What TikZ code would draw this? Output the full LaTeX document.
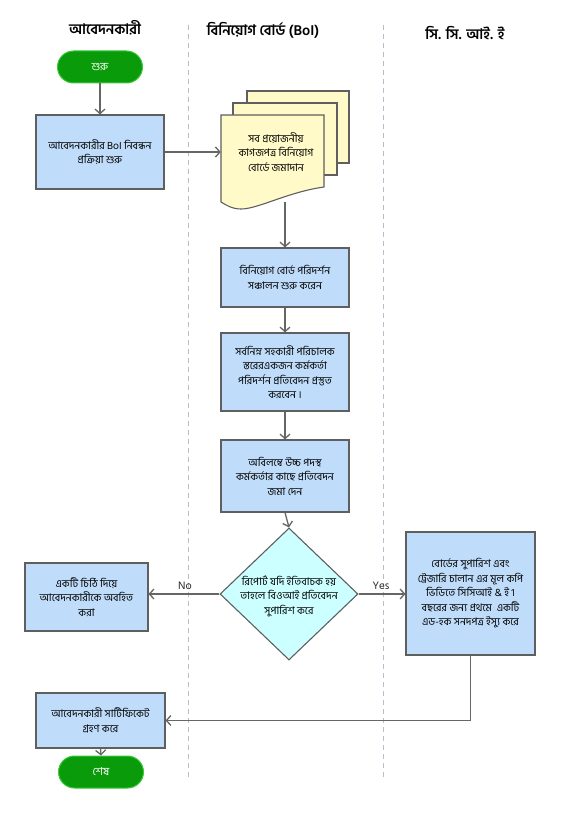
\documentclass[tikz,border=0pt]{standalone}
\usepackage{fontspec}
\setmainfont{Liberation Sans}
\newfontfamily\bn[Script=Bengali]{Hind Siliguri}
\usetikzlibrary{shapes.geometric,arrows.meta}
\definecolor{boxblue}{HTML}{BFDDFA}
\definecolor{bordergray}{HTML}{5F5F5F}
\definecolor{arrowgray}{HTML}{666666}
\definecolor{lanegray}{HTML}{B8BCCB}
\definecolor{termgreen}{HTML}{0A9B0A}
\definecolor{termborder}{HTML}{3CC83C}
\definecolor{pageyellow}{HTML}{FFFAC8}
\definecolor{diacyan}{HTML}{CCFFFF}
\tikzset{
  proc/.style={draw=bordergray, line width=1.1pt, fill=boxblue, align=center, inner sep=2pt,
    font=\bn\fontsize{10.5}{14.5}\selectfont},
  term/.style={draw=termborder, line width=1pt, fill=termgreen, rounded corners=16pt, text=white,
    minimum width=85pt, minimum height=32pt, font=\bn\fontsize{11}{12}\selectfont},
  arr/.style={draw=arrowgray, line width=1.3pt, -{Straight Barb[length=4.5pt,width=10pt]}},
  lane/.style={draw=lanegray, line width=0.8pt, dash pattern=on 5pt off 4pt},
  hdr/.style={font=\bn\bfseries\fontsize{14.5}{16}\selectfont},
  page/.style={draw=bordergray, line width=1.1pt, fill=pageyellow},
  lbl/.style={font=\bn\fontsize{11}{12}\selectfont, text=black!85}
}
\begin{document}
\begin{tikzpicture}[x=1pt,y=-1pt]
\useasboundingbox[fill=white] (0,0) rectangle (567,818);
% lanes
\draw[lane] (188,25) -- (188,780);
\draw[lane] (383,25) -- (383,780);
% headers
\node[hdr] (h1) at (105,28) {আবেদনকারী};
\node[hdr] (h2) at (263,30) {বিনিয়োগ বোর্ড (BoI)};
\node[hdr] (h3) at (465,33) {সি. সি. আই. ই};
% start
\node[term] (start) at (100,67) {শুরু};
\node[proc, minimum width=128pt, minimum height=74pt] (b1) at (100,152)
  {আবেদনকারীর BoI নিবন্ধন\\প্রক্রিয়া শুরু};
% document stack
\draw[page] (247,91) rectangle (349,163);
\draw[page] (233,103) rectangle (337,175);
\draw[page] (221,115) -- (324,115) -- (324,187)
  .. controls (288,192) and (258,209) .. (241,209)
  .. controls (232,209) and (226,205) .. (221,202) -- cycle;
\node[minimum width=103pt, minimum height=87pt, inner sep=0pt] (doc) at (272.5,158.5) {};
\node[align=center, font=\bn\fontsize{10.5}{14.5}\selectfont] (doctext) at (276,152)
  {সব প্রয়োজনীয়\\কাগজপত্র বিনিয়োগ\\বোর্ডে জমাদান};
% boxes in BoI lane
\node[proc, minimum width=128pt, minimum height=59pt] (b2) at (285,277.5)
  {বিনিয়োগ বোর্ড পরিদর্শন\\সঞ্চালন শুরু করেন};
\node[proc, minimum width=128pt, minimum height=78pt] (b3) at (285,372)
  {সর্বনিম্ন সহকারী পরিচালক\\স্তরেরএকজন কর্মকর্তা\\পরিদর্শন প্রতিবেদন প্রস্তুত\\করবেন ।};
\node[proc, minimum width=128pt, minimum height=72pt] (b4) at (285,476)
  {অবিলম্বে উচ্চ পদস্থ\\কর্মকর্তার কাছে প্রতিবেদন\\জমা দেন};
% decision
\node[diamond, draw=bordergray, line width=1.1pt, fill=diacyan, minimum width=138pt,
  minimum height=132pt, inner sep=0pt] (dia) at (289,594) {};
\node[align=center, font=\bn\fontsize{10.5}{14.5}\selectfont] (diatext) at (289,596)
  {রিপোর্ট যদি ইতিবাচক হয়\\তাহলে বিওআই প্রতিবেদন\\সুপারিশ করে};
% side boxes
\node[proc, minimum width=123pt, minimum height=68pt] (lb) at (86.5,597)
  {একটি চিঠি দিয়ে\\আবেদনকারীকে অবহিত\\করা};
\node[proc, minimum width=129pt, minimum height=123pt] (rb) at (470.5,593.5)
  {বোর্ডের সুপারিশ এবং\\ট্রেজারি চালান এর মূল কপি\\ভিডিতে সিসিআই \& ই 1\\বছরের জন্য প্রথমে\ \ একটি\\এড-হক সনদপত্র ইস্যু করে};
\node[proc, minimum width=129pt, minimum height=55pt] (bb) at (100.5,720.5)
  {আবেদনকারী সার্টিফিকেট\\গ্রহণ করে};
\node[term] (end) at (101,772) {শেষ};
% connectors
\draw[arr] (start.south) -- (b1.north);
\draw[arr] (b1.east) -- (b1.east -| doc.west);
\draw[arr] (b2.north |- doc.south) -- (b2.north);
\draw[arr] (b2.south) -- (b3.north);
\draw[arr] (b3.south) -- (b4.north);
\draw[arr] (b4.south) -- (dia.north);
\draw[arr] (dia.west) -- (dia.west -| lb.east);
\draw[arr] (dia.east) -- (dia.east -| rb.west);
\node[lbl] (no) at (185,586) {No};
\node[lbl] (yes) at (381,586) {Yes};
\draw[arr] (rb.south) -- (rb.south |- bb.east) -- (bb.east);
\draw[arr] (bb.south) -- (end.north);
\end{tikzpicture}
\end{document}
